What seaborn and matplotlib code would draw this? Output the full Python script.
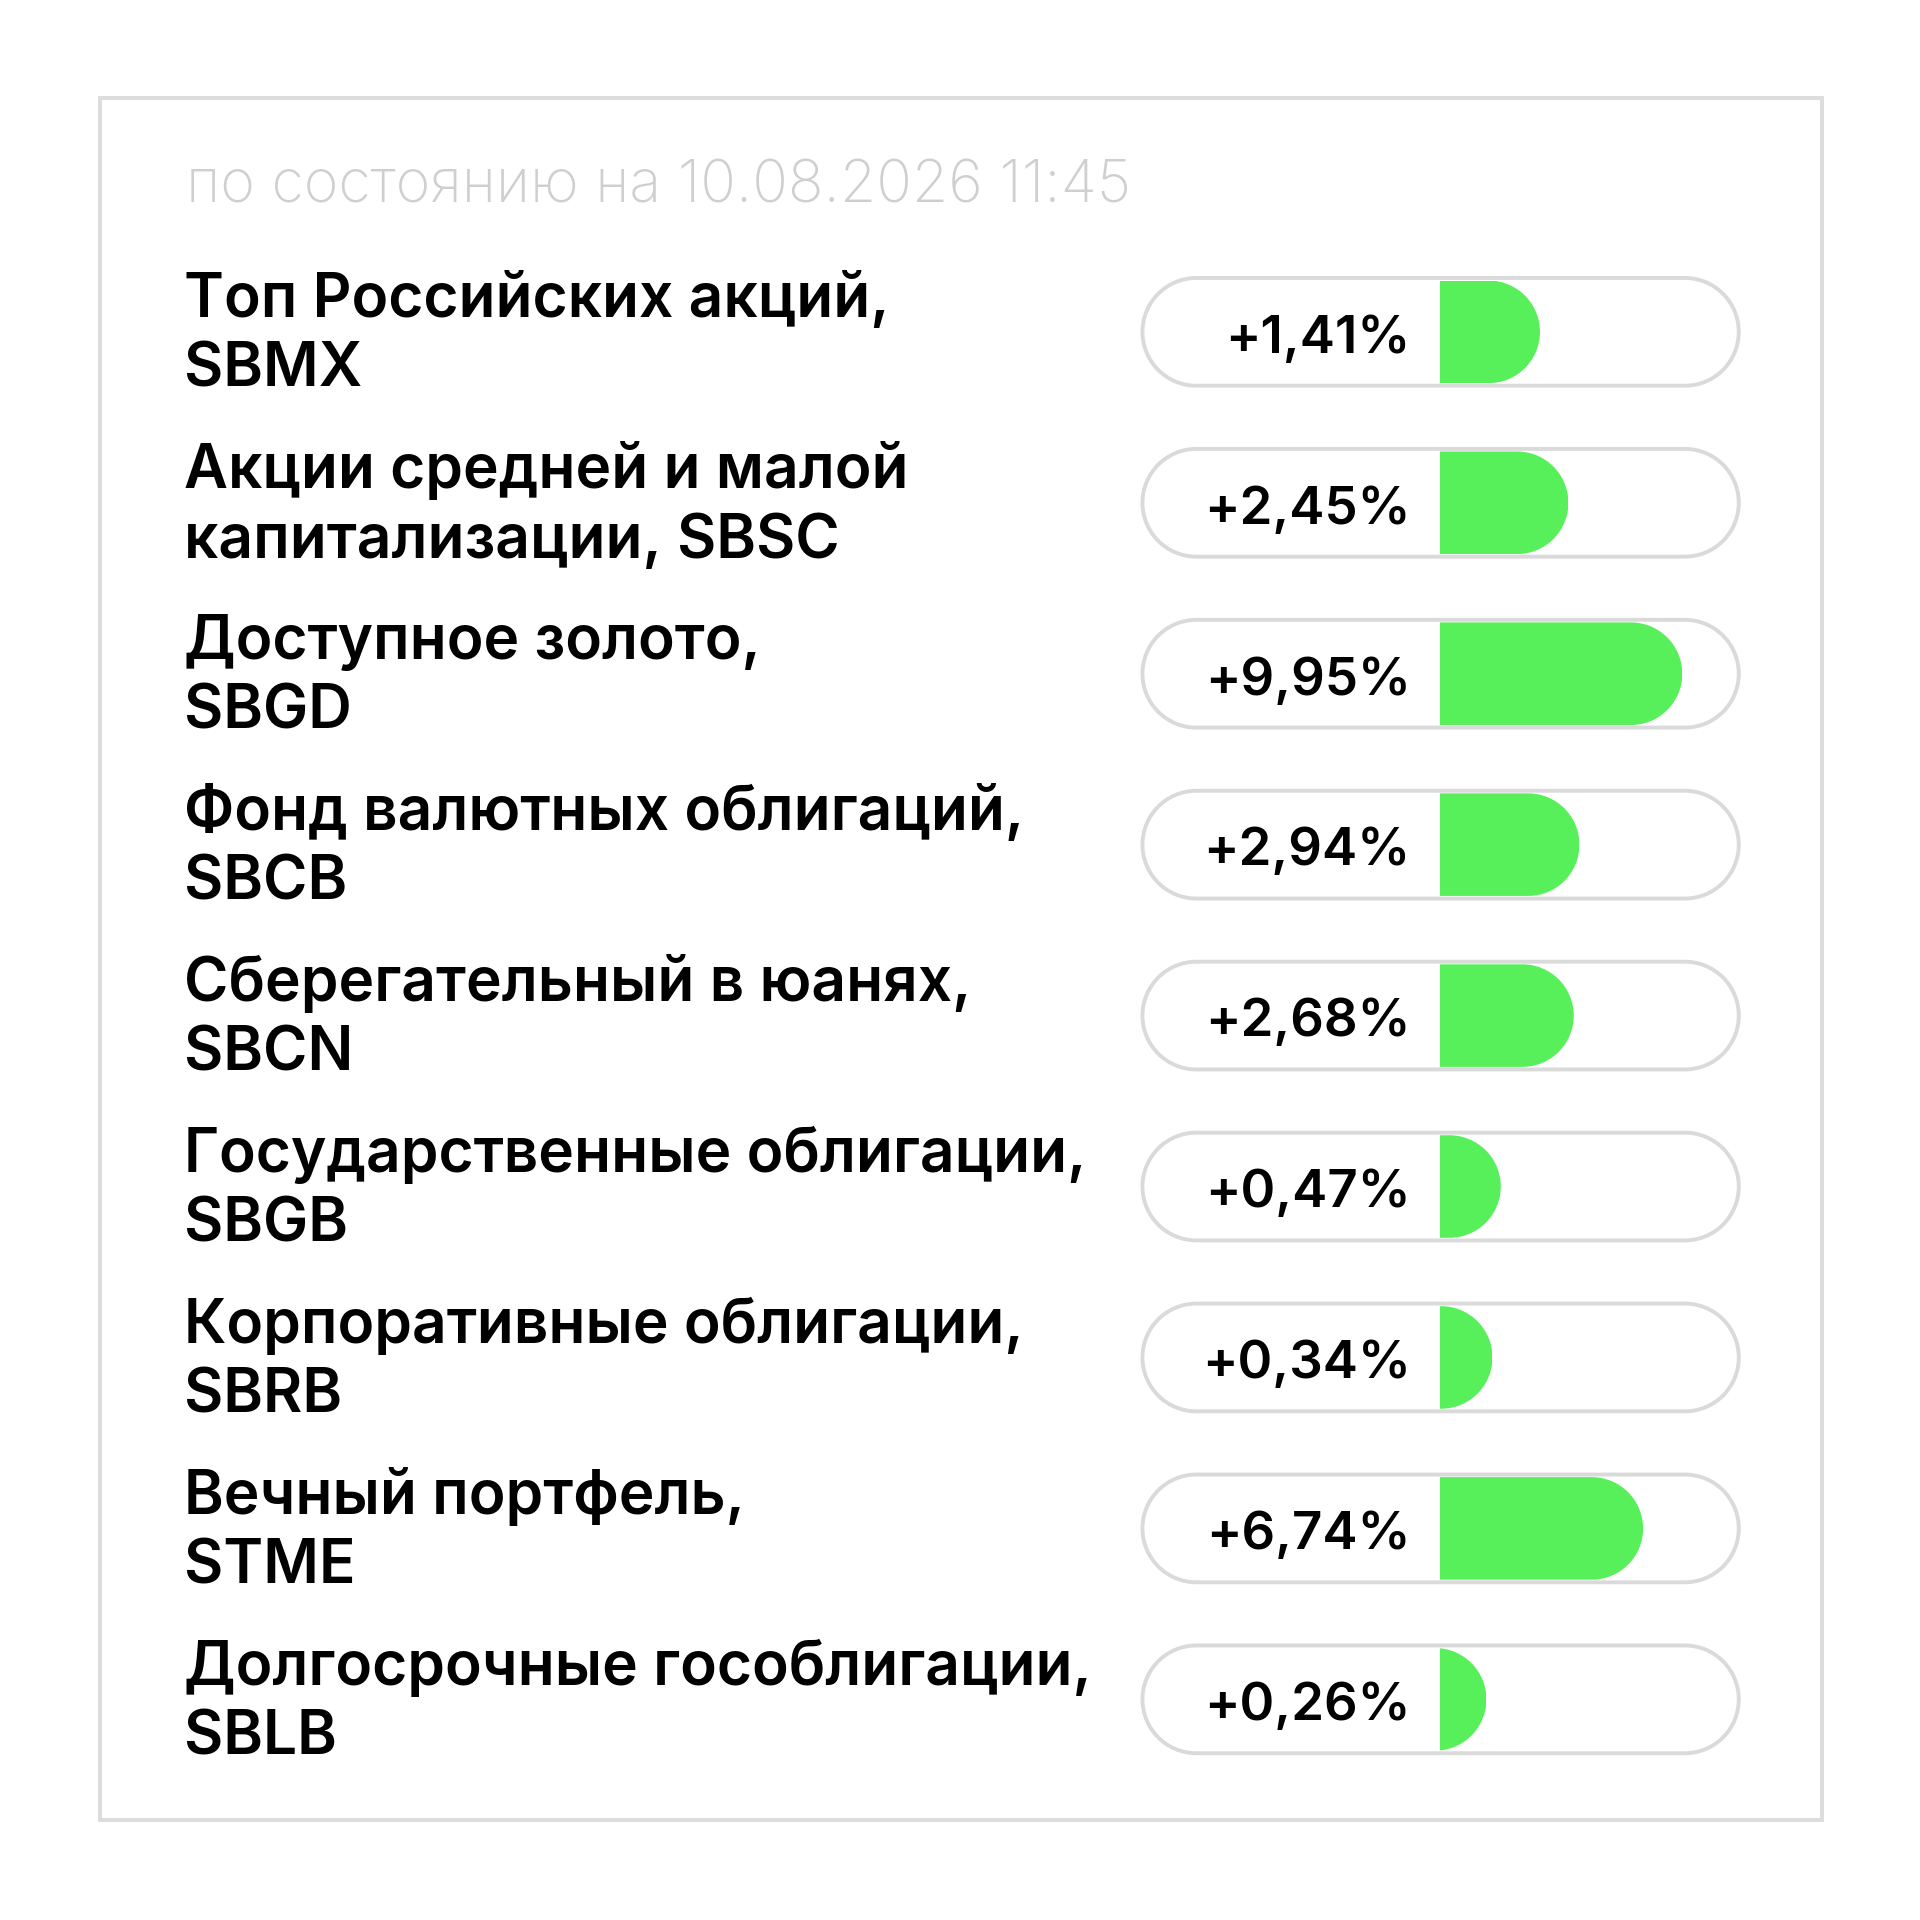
import numpy as np
import pandas as pd
import matplotlib
matplotlib.use("Agg")
import matplotlib.pyplot as plt
from matplotlib.patches import Rectangle, PathPatch
from matplotlib.path import Path
from matplotlib.transforms import IdentityTransform
import seaborn as sns

# data
labels = [
    "Топ Российских акций,\nSBMX",
    "Акции средней и малой\nкапитализации, SBSC",
    "Доступное золото,\nSBGD",
    "Фонд валютных облигаций,\nSBCB",
    "Сберегательный в юанях,\nSBCN",
    "Государственные облигации,\nSBGB",
    "Корпоративные облигации,\nSBRB",
    "Вечный портфель,\nSTME",
    "Долгосрочные гособлигации,\nSBLB",
]
returns = [1.41, 2.45, 9.95, 2.94, 2.68, 0.47, 0.34, 6.74, 0.26]
subtitle = "по состоянию на 10.08.2026 11:45"

sns.set_theme(style="white")
plt.rcParams["font.family"] = ["Inter", "DejaVu Sans"]

GREEN = "#57f05b"
GREY = "#dadada"
S = 1568  # layout units (square canvas)
row0, step = 271, 139.6


def capsule(x0, x1, y0, y1, left_round=True):
    # path with semicircular right end (and left end if asked)
    r = (y1 - y0) / 2
    cy = (y0 + y1) / 2
    right = Path.arc(-90, 90)
    verts = [[x0 + (r if left_round else 0), y0]]
    codes = [Path.MOVETO]
    verts += list(right.vertices * r + [x1 - r, cy])
    codes += [Path.LINETO] + list(right.codes[1:])
    if left_round:
        lft = Path.arc(90, 270)
        verts += list(lft.vertices * r + [x0 + r, cy])
        codes += [Path.LINETO] + list(lft.codes[1:])
    else:
        verts += [[x0, y1]]
        codes += [Path.LINETO]
    verts += [verts[0]]
    codes += [Path.CLOSEPOLY]
    return Path(np.array(verts, dtype=float), codes)


fig = plt.figure(figsize=(19.2, 19.2), dpi=100)
ax = fig.add_axes([0, 0, 1, 1])
ax.set_xlim(0, S)
ax.set_ylim(S, 0)
ax.axis("off")

# frame + date line
ax.add_patch(Rectangle((82, 80), 1406, 1406, fill=False, ec="#dcdcdc", lw=2.8))
ax.text(152, 165, subtitle, fontsize=42.5, fontweight="light", color="#cfcfcf", va="baseline")

for i, (lab, v) in enumerate(zip(labels, returns)):
    yc = row0 + i * step
    l1, l2 = lab.split("\n")
    ax.text(150, yc - 12, l1, fontsize=43.5, fontweight="semibold", color="black", va="baseline")
    ax.text(150, yc + 45, l2, fontsize=43.5, fontweight="semibold", color="black", va="baseline")
    ax.add_patch(PathPatch(capsule(933, 1420, yc - 44, yc + 44), fc="white", ec=GREY, lw=2.8))
    ax.text(1152, yc + 17, ("+%.2f%%" % v).replace(".", ","), fontsize=38,
            fontweight="semibold", color="black", ha="right", va="baseline")

# bars on a power (sqrt-like) scale
df = pd.DataFrame({"label": labels, "value": returns})
bx = fig.add_axes([1176 / S, 1 - (row0 + 8.5 * step) / S, (1420 - 1176) / S, 9 * step / S])
sns.barplot(data=df, x="value", y="label", orient="h", color=GREEN, width=0.6,
            saturation=1, ax=bx)
p = 0.453
bx.set_xscale("function", functions=(lambda x: np.abs(x) ** p, lambda x: np.abs(x) ** (1 / p)))
bx.set_xlim(0, 15.8)
bx.set_ylim(8.5, -0.5)
bx.axis("off")
bx.patch.set_alpha(0)

# clip each bar so its right end is a semicircle
for bar in bx.patches:
    x0, y0 = bar.get_x(), bar.get_y()
    (a, b), (c, d) = bx.transData.transform([(x0, y0), (x0 + bar.get_width(), y0 + bar.get_height())])
    left, right = min(a, c), max(a, c)
    lo, hi = min(b, d), max(b, d)
    clip = PathPatch(capsule(left - (hi - lo), right, lo, hi, left_round=False),
                     transform=IdentityTransform())
    bar.set_linewidth(0)
    bar.set_clip_path(clip)

fig.savefig("out.png", dpi=100, facecolor="white")
